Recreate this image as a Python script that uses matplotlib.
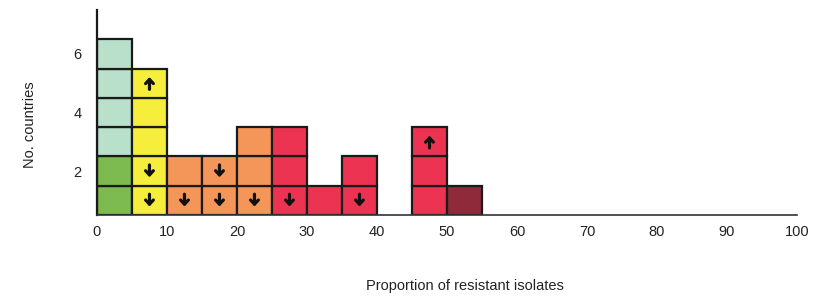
import matplotlib.pyplot as plt

plt.rcParams['font.family'] = ['Liberation Sans', 'DejaVu Sans']

# one entry per country: bin start (%), colour class, trend arrow
square_bin = [0, 0, 0, 0, 0, 0,
              5, 5, 5, 5, 5,
              10, 10,
              15, 15,
              20, 20, 20,
              25, 25, 25,
              30,
              35, 35,
              45, 45, 45,
              50]
square_class = ['green', 'green', 'mint', 'mint', 'mint', 'mint',
                'yellow', 'yellow', 'yellow', 'yellow', 'yellow',
                'orange', 'orange',
                'orange', 'orange',
                'orange', 'orange', 'orange',
                'red', 'red', 'red',
                'red',
                'red', 'red',
                'red', 'red', 'red',
                'darkred']
square_trend = ['', '', '', '', '', '',
                'down', 'down', '', '', 'up',
                'down', '',
                'down', 'down',
                'down', '', '',
                'down', '', '',
                '',
                'down', '',
                '', '', 'up',
                '']

class_colors = {'green': '#7dba4f', 'mint': '#b9e0cb', 'yellow': '#f6ee3c',
                'orange': '#f4955a', 'red': '#ec3452', 'darkred': '#8e2a3a'}
bin_width = 5

fig = plt.figure(figsize=(8.19, 2.96), dpi=100)
ax = fig.add_axes([0.1184, 0.2736, 0.8547, 0.6926])

level = {}
for b, c, t in zip(square_bin, square_class, square_trend):
    y = level.get(b, 0)
    ax.bar(b, 1, bottom=y, width=bin_width, align='edge',
           color=class_colors[c], edgecolor='#1a1a1a', linewidth=1.6, zorder=2)
    if t:
        xc = b + bin_width / 2
        d = -0.21 if t == 'down' else 0.21
        ax.annotate('', xy=(xc, y + 0.5 + d), xytext=(xc, y + 0.5 - d),
                    arrowprops=dict(arrowstyle='->,head_width=0.28,head_length=0.3',
                                    lw=2.3, color='#111111',
                                    shrinkA=0, shrinkB=0), zorder=3)
    level[b] = y + 1

ax.set_xlim(0, 100)
ax.set_ylim(0, 7)
ax.set_xticks(range(0, 101, 10))
ax.set_yticks([1.5, 3.5, 5.5])
ax.set_yticklabels(['2', '4', '6'])
ax.tick_params(length=0, labelsize=10.5, colors='#222222')
ax.tick_params(axis='x', pad=7)
ax.tick_params(axis='y', pad=11)

for s in ['top', 'right']:
    ax.spines[s].set_visible(False)
ax.spines['left'].set_linewidth(1.6)
ax.spines['left'].set_color('#1a1a1a')
ax.spines['bottom'].set_linewidth(1.2)
ax.spines['bottom'].set_color('#333333')

ax.set_xlabel('Proportion of resistant isolates', fontsize=10.5, color='#222222')
ax.xaxis.set_label_coords(0.526, -0.31)
ax.set_ylabel('No. countries', fontsize=10.5, color='#222222')
ax.yaxis.set_label_coords(-0.085, 0.44)

fig.savefig('out.png', dpi=100)
